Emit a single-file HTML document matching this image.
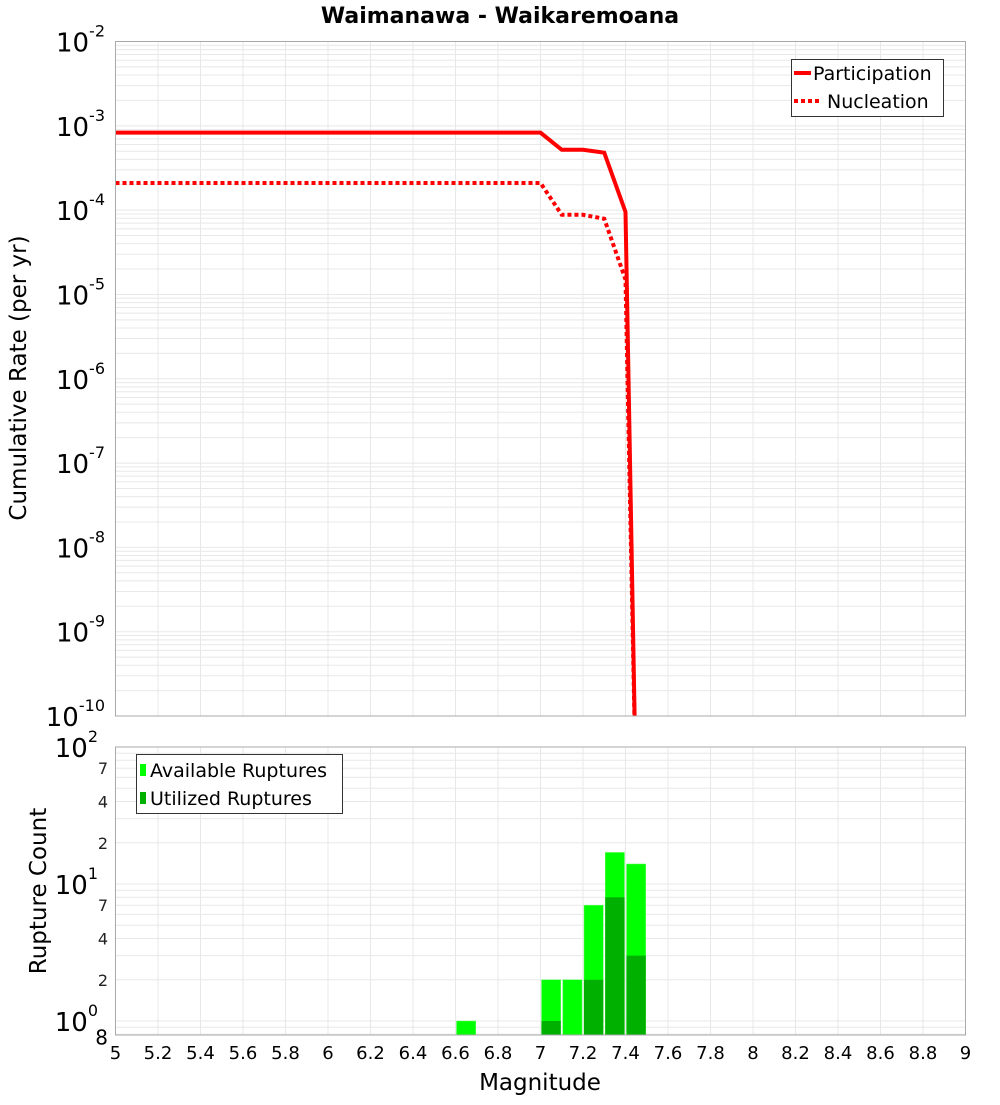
<!DOCTYPE html>
<html><head><meta charset="utf-8"><style>
body{margin:0;background:#fff;font-family:"Liberation Sans","DejaVu Sans",sans-serif;}
</style></head><body>
<svg id="c" width="1000" height="1100" xmlns="http://www.w3.org/2000/svg" font-family="DejaVu Sans, Liberation Sans, sans-serif"></svg>
<script>
const partMag=[5.0,7.0,7.1,7.2,7.3,7.4,7.45];
const partRate=[8.3e-4,8.3e-4,5.2e-4,5.2e-4,4.8e-4,9.5e-5,1e-11];
const nuclMag=[5.0,7.0,7.1,7.2,7.3,7.4,7.45];
const nuclRate=[2.1e-4,2.1e-4,8.8e-5,8.8e-5,7.9e-5,1.5e-5,1e-11];
const binStart=[6.6,7.0,7.1,7.2,7.3,7.4];
const availCount=[1,2,2,7,17,14];
const usedCount=[0,1,0,2,8,3];
const xTicks=[5,5.2,5.4,5.6,5.8,6,6.2,6.4,6.6,6.8,7,7.2,7.4,7.6,7.8,8,8.2,8.4,8.6,8.8,9];
const topDecades=[-2,-3,-4,-5,-6,-7,-8,-9,-10];
const botDecades=[2,1,0];

const NS="http://www.w3.org/2000/svg";
const svg=document.getElementById('c');
function mk(t,a,p){const e=document.createElementNS(NS,t);for(const k in a)e.setAttribute(k,a[k]);(p||svg).appendChild(e);return e;}
const L=115.5,R=965.5;
const X=m=>L+(m-5)/4*(R-L);
const T0=41.5,T1=716;
const Yt=v=>T0+(-2-Math.log10(v))/8*(T1-T0);
const B0=747,B1=1035,BD=137;
const Yb=v=>B0+(2-Math.log10(v))*BD;

let t=mk('text',{x:500,y:23,'text-anchor':'middle','font-size':22,'font-weight':'bold'});t.textContent='Waimanawa - Waikaremoana';


function grid(top,bot,Y,decLo,decHi,grp){
  for(const m of xTicks){const x=X(m);mk('line',{x1:x,x2:x,y1:top,y2:bot,stroke:'#e8e8e8'},grp);}
  for(let d=decLo;d<decHi;d++)for(let k=1;k<10;k++){const y=Y(k*Math.pow(10,d));if(y<top-0.5||y>bot+0.5)continue;mk('line',{x1:L,x2:R,y1:y,y2:y,stroke:'#e8e8e8'},grp);}
}
const gt=mk('g',{});
grid(T0,T1,Yt,-10,-2,gt);
const clip=mk('clipPath',{id:'cp'});mk('rect',{x:L,y:T0,width:R-L,height:T1-T0},clip);
let p=mk('polyline',{points:partMag.map((m,i)=>X(m)+','+Yt(partRate[i])).join(' '),fill:'none',stroke:'#ff0000','stroke-width':4,'clip-path':'url(#cp)'},gt);

p=mk('polyline',{points:nuclMag.map((m,i)=>X(m)+','+Yt(nuclRate[i])).join(' '),fill:'none',stroke:'#ff0000','stroke-width':4,'stroke-dasharray':'4 3','clip-path':'url(#cp)'},gt);

mk('rect',{x:L,y:T0,width:R-L,height:T1-T0,fill:'none',stroke:'#aaa'},gt);
for(const d of topDecades){const y=Yt(Math.pow(10,d));const tx=mk('text',{x:105,y:y+10,'text-anchor':'end','font-size':26},gt);tx.innerHTML='10<tspan font-size="16" dy="-15">'+d+'</tspan>';}
t=mk('text',{transform:'translate(26,378) rotate(-90)','text-anchor':'middle','font-size':23});t.textContent='Cumulative Rate (per yr)';

const lg=mk('g',{});
mk('rect',{x:791.5,y:59.5,width:152,height:57,fill:'#fff',stroke:'#333'},lg);
mk('line',{x1:794,x2:811,y1:73,y2:73,stroke:'#f00','stroke-width':4},lg);
mk('line',{x1:794,x2:822,y1:101,y2:101,stroke:'#f00','stroke-width':4,'stroke-dasharray':'4 3'},lg);
t=mk('text',{x:813,y:80,'font-size':19},lg);t.textContent='Participation';
t=mk('text',{x:827,y:108,'font-size':19},lg);t.textContent='Nucleation';

const gb=mk('g',{});
grid(B0,B1,Yb,-1,2,gb);
const w=(R-L)/40;
binStart.forEach((m,i)=>{
  const x=X(m)+1;
  let r=mk('rect',{x:x,y:Yb(availCount[i]),width:w-2,height:B1-Yb(availCount[i]),fill:'#00ff00',stroke:'#66ff66','stroke-width':0.5},gb);
  
  if(usedCount[i]>0){r=mk('rect',{x:x,y:Yb(usedCount[i]),width:w-2,height:B1-Yb(usedCount[i]),fill:'#00b000'},gb);
  }
});
mk('rect',{x:L,y:B0,width:R-L,height:B1-B0,fill:'none',stroke:'#aaa'},gb);
for(const d of botDecades){const y=Yb(Math.pow(10,d));const tx=mk('text',{x:98,y:y+10,'text-anchor':'end','font-size':26},gb);tx.innerHTML='10<tspan font-size="16" dy="-15">'+d+'</tspan>';}
for(const d of [0,1])for(const k of [2,4,7]){const y=Yb(k*Math.pow(10,d));const tx=mk('text',{x:108,y:y+6,'text-anchor':'end','font-size':16,fill:'#222'},gb);tx.textContent=k;}
t=mk('text',{x:108,y:Yb(0.8)+10,'text-anchor':'end','font-size':20},gb);t.textContent='8';
t=mk('text',{transform:'translate(46,891) rotate(-90)','text-anchor':'middle','font-size':23});t.textContent='Rupture Count';

const lg2=mk('g',{});
mk('rect',{x:136.5,y:754.5,width:206,height:59,fill:'#fff',stroke:'#333'},lg2);
mk('rect',{x:140,y:764,width:6,height:12,fill:'#00ff00'},lg2);
mk('rect',{x:140,y:792,width:6,height:12,fill:'#00b000'},lg2);
t=mk('text',{x:150,y:777,'font-size':19},lg2);t.textContent='Available Ruptures';
t=mk('text',{x:150,y:805,'font-size':19},lg2);t.textContent='Utilized Ruptures';
for(const m of xTicks){const tx=mk('text',{x:X(m),y:1059,'text-anchor':'middle','font-size':18});tx.textContent=String(m);}
t=mk('text',{x:540,y:1090,'text-anchor':'middle','font-size':23});t.textContent='Magnitude';

</script>
</body></html>
